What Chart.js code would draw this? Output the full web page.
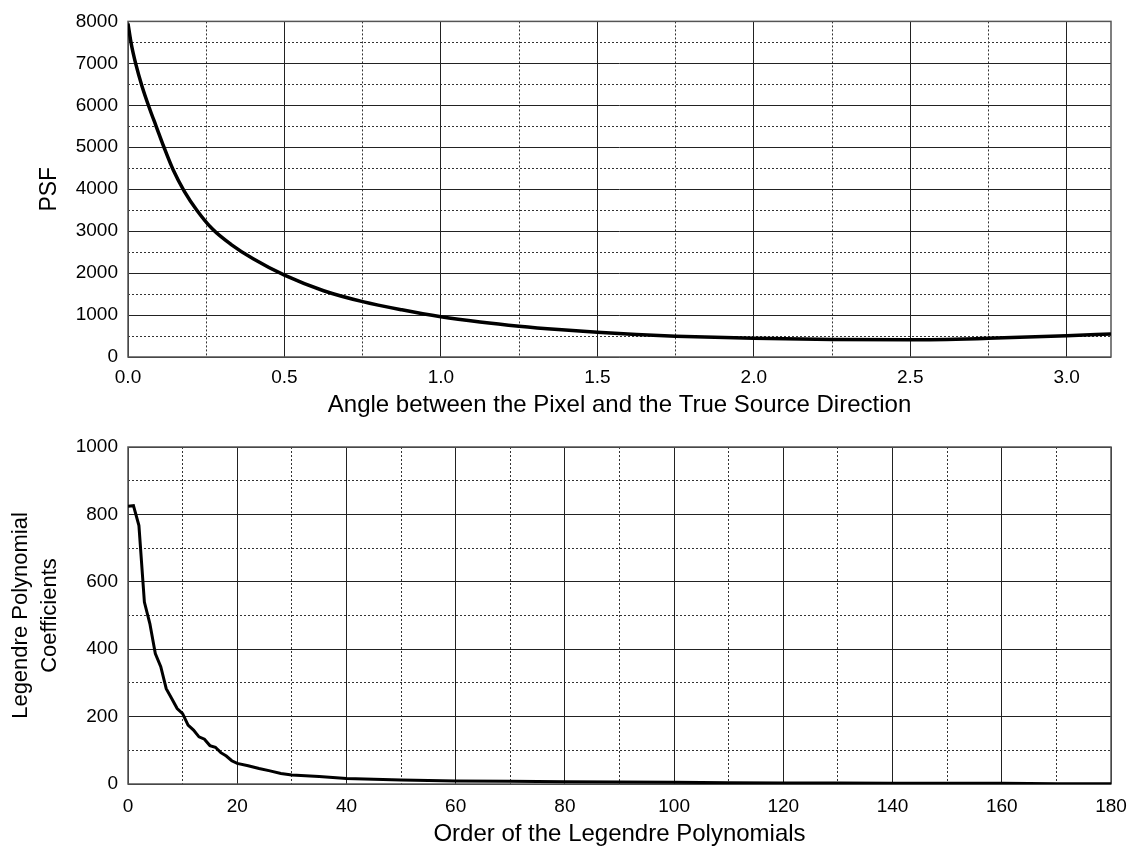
<!DOCTYPE html>
<html>
<head>
<meta charset="utf-8">
<script src="https://cdn.jsdelivr.net/npm/chart.js@4.4.1/dist/chart.umd.min.js"></script>
<style>
  html, body { margin: 0; padding: 0; background: #ffffff; }
  .panel { position: absolute; left: 0; width: 1133px; height: 425px; }
  #panelSuperior { top: 0; }
  #panelInferior { top: 425px; }
</style>
</head>
<body>
<div class="panel" id="panelSuperior"><canvas id="graficoPsf" width="1133" height="425"></canvas></div>
<div class="panel" id="panelInferior"><canvas id="graficoLegendre" width="1133" height="425"></canvas></div>
<script>
// Datos
const angulos = [0, 0.01, 0.025, 0.045, 0.07, 0.09, 0.115, 0.145, 0.18, 0.22, 0.27, 0.33, 0.4, 0.5, 0.625, 0.75, 0.875, 1.0, 1.125, 1.25, 1.375, 1.5, 1.625, 1.75, 2.0, 2.25, 2.5, 2.75, 3.0, Math.PI];
const valoresPsf = [7950, 7480, 6980, 6450, 5900, 5500, 5000, 4450, 3950, 3500, 3050, 2680, 2340, 1950, 1580, 1320, 1125, 960, 835, 735, 655, 590, 535, 495, 445, 420, 410, 445, 505, 550];

const ordenes = [0, 1, 2, 3, 4, 5, 6, 7, 8, 9, 10, 11, 12, 13, 14, 15, 16, 17, 18, 19, 20, 22, 24, 26, 28, 30, 35, 40, 45, 50, 60, 70, 80, 90, 100, 110, 120, 130, 140, 150, 160, 170, 180];
const coeficientes = [824, 826, 767, 540, 476, 387, 348, 283, 254, 224, 209, 175, 160, 140, 133, 114, 109, 93, 83, 69, 61, 54, 46, 39, 31, 27, 22, 16, 14, 12, 9, 8, 7, 6, 5, 4, 3, 3, 2, 2, 2, 1, 0.5];

// Marcas de los ejes (principales y secundarias)
const ticksAngulo = [0, 0.5, 1.0, 1.5, 2.0, 2.5, 3.0];
const ticksAnguloMenor = [0.25, 0.75, 1.25, 1.75, 2.25, 2.75];
const ticksPsf = [0, 1000, 2000, 3000, 4000, 5000, 6000, 7000, 8000];
const ticksPsfMenor = [500, 1500, 2500, 3500, 4500, 5500, 6500, 7500];
const ticksOrden = [0, 20, 40, 60, 80, 100, 120, 140, 160, 180];
const ticksOrdenMenor = [10, 30, 50, 70, 90, 110, 130, 150, 170];
const ticksCoef = [0, 200, 400, 600, 800, 1000];
const ticksCoefMenor = [100, 300, 500, 700, 900];

const fuente = '"Liberation Sans", Arial, Helvetica, sans-serif';
const colorTexto = '#000000';

// Marco gris alrededor del área de trazado
const marcoArea = {
  id: 'marcoArea',
  beforeDatasetsDraw(chart) {
    const { ctx, chartArea: a } = chart;
    ctx.save();
    ctx.strokeStyle = '#555555';
    ctx.lineWidth = 1.5;
    ctx.strokeRect(a.left, a.top, a.right - a.left, a.bottom - a.top);
    ctx.restore();
  }
};

const fijarTicks = (valores) => (eje) => { eje.ticks = valores.map(v => ({ value: v })); };

const ejeMenor = (posicion, min, max, valores, horizontal) => ({
  type: 'linear',
  position: posicion,
  min, max,
  afterBuildTicks: fijarTicks(valores),
  afterFit: eje => { if (horizontal) eje.height = 0; else eje.width = 0; },
  ticks: { display: false },
  border: { display: false, dash: [2, 2] },
  grid: { color: '#333333', lineWidth: 1, drawTicks: false }
});

const crearGrafico = (lienzo, cfg) => {
  new Chart(document.getElementById(lienzo), {
    type: 'line',
    data: {
      datasets: [{
        data: cfg.xs.map((v, i) => ({ x: v, y: cfg.ys[i] })),
        borderColor: '#000000',
        borderWidth: cfg.grosor,
        pointRadius: 0,
        fill: false,
        cubicInterpolationMode: cfg.suave ? 'monotone' : 'default',
        tension: 0,
        xAxisID: 'x',
        yAxisID: 'y'
      }]
    },
    options: {
      responsive: false,
      animation: false,
      layout: { padding: { left: 0, right: 22, top: cfg.arriba, bottom: 0 } },
      plugins: { legend: { display: false }, tooltip: { enabled: false } },
      scales: {
        xMenor: ejeMenor('bottom', cfg.xMin, cfg.xMax, cfg.xMenores, true),
        yMenor: ejeMenor('left', cfg.yMin, cfg.yMax, cfg.yMenores, false),
        x: {
          type: 'linear',
          position: 'bottom',
          min: cfg.xMin, max: cfg.xMax,
          afterBuildTicks: fijarTicks(cfg.xMayores),
          afterFit: eje => { eje.height = cfg.altoEjeX; eje.paddingRight = 0; eje.paddingLeft = 0; },
          border: { display: false },
          grid: { color: '#222222', lineWidth: 1, drawTicks: false },
          ticks: {
            padding: cfg.sepX,
            color: colorTexto,
            font: { family: fuente, size: 19 },
            maxRotation: 0,
            callback: v => cfg.formatoX(v)
          },
          title: {
            display: true,
            text: cfg.tituloX,
            color: colorTexto,
            font: { family: fuente, size: 24 },
            padding: { top: 0, bottom: cfg.bajoTituloX }
          }
        },
        y: {
          type: 'linear',
          position: 'left',
          min: cfg.yMin, max: cfg.yMax,
          afterBuildTicks: fijarTicks(cfg.yMayores),
          afterFit: eje => { eje.width = 128; },
          border: { display: false },
          grid: { color: '#222222', lineWidth: 1, drawTicks: false },
          ticks: {
            padding: 10,
            color: colorTexto,
            font: { family: fuente, size: 19 },
            callback: v => String(v)
          },
          title: {
            display: true,
            text: cfg.tituloY,
            color: colorTexto,
            font: cfg.fuenteTituloY,
            padding: { top: cfg.margenTituloY, bottom: 0 }
          }
        }
      }
    },
    plugins: [marcoArea]
  });
};

crearGrafico('graficoPsf', {
  xs: angulos, ys: valoresPsf, grosor: 3.5, suave: true,
  xMin: 0, xMax: Math.PI, yMin: 0, yMax: 8000,
  xMayores: ticksAngulo, xMenores: ticksAnguloMenor,
  yMayores: ticksPsf, yMenores: ticksPsfMenor,
  formatoX: v => v.toFixed(1),
  arriba: 19, altoEjeX: 68, sepX: 9, bajoTituloX: 5,
  tituloX: 'Angle between the Pixel and the True Source Direction',
  tituloY: 'PSF',
  fuenteTituloY: { family: fuente, size: 23 },
  margenTituloY: 36
});

crearGrafico('graficoLegendre', {
  xs: ordenes, ys: coeficientes, grosor: 3, suave: false,
  xMin: 0, xMax: 180, yMin: 0, yMax: 1000,
  xMayores: ticksOrden, xMenores: ticksOrdenMenor,
  yMayores: ticksCoef, yMenores: ticksCoefMenor,
  formatoX: v => String(v),
  arriba: 22, altoEjeX: 66, sepX: 11, bajoTituloX: 1,
  tituloX: 'Order of the Legendre Polynomials',
  tituloY: ['Legendre Polynomial', 'Coefficients'],
  fuenteTituloY: { family: fuente, size: 22, lineHeight: '29px' },
  margenTituloY: 6
});
</script>
</body>
</html>
